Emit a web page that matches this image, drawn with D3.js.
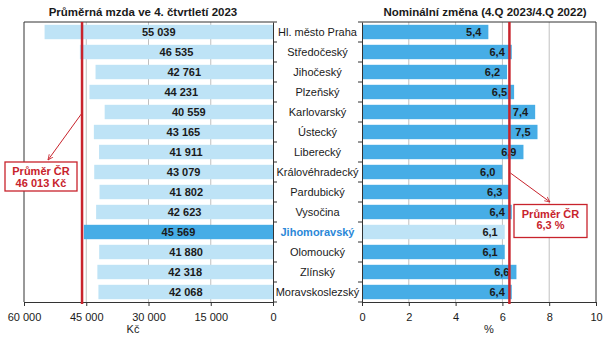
<!DOCTYPE html>
<html>
<head>
<meta charset="utf-8">
<script src="https://cdn.jsdelivr.net/npm/d3@7"></script>
<style>
  body { margin: 0; background: #fff; }
  svg { display: block; font-family: Arial, 'Liberation Sans', sans-serif; }
</style>
</head>
<body>
<script>
const regions = ['Hl. město Praha', 'Středočeský', 'Jihočeský', 'Plzeňský', 'Karlovarský', 'Ústecký',
  'Liberecký', 'Královéhradecký', 'Pardubický', 'Vysočina', 'Jihomoravský', 'Olomoucký', 'Zlínský', 'Moravskoslezský']
const wages = [55039, 46535, 42761, 44231, 40559, 43165, 41911, 43079, 41802, 42623, 45569, 41880, 42318, 42068]
const changes = [5.4, 6.4, 6.2, 6.5, 7.4, 7.5, 6.9, 6.0, 6.3, 6.4, 6.1, 6.1, 6.6, 6.4]
const wageTicks = [60000, 45000, 30000, 15000, 0]
const changeTicks = [0, 2, 4, 6, 8, 10]
const avgWage = 46013
const avgChange = 6.3
const highlight = 'Jihomoravský'

const width = 611
const height = 348

// colors
const lightBlue = '#bee3f6'
const darkBlue = '#46ade6'
const red = '#c8232c'
const textDark = '#1a1a1a'
const gridGray = '#c0c0c0'
const axisDark = '#333333'

const cz = d3.formatLocale({ decimal: ',', thousands: '\u00a0', grouping: [3], currency: ['', ' Kč'] })
const fmtInt = cz.format(',d')
const fmtDec = cz.format('.1f')

const data = regions.map((r, i) => ({ region: r, wage: wages[i], change: changes[i] }))

const svg = d3.select('body').append('svg').attr('width', width).attr('height', height)

const plotTop = 22
const plotBottom = 302

const y = d3.scaleBand()
  .domain(regions)
  .range([plotTop, plotBottom])
  .paddingInner(0.28)
  .paddingOuter(0.14)

// ---------- left panel ----------
const xL = d3.scaleLinear().domain([60000, 0]).range([24, 273])

svg.append('g')
  .selectAll('line')
  .data([45000, 30000, 15000])
  .join('line')
  .attr('x1', d => xL(d)).attr('x2', d => xL(d))
  .attr('y1', plotTop).attr('y2', plotBottom)
  .style('stroke', gridGray)

svg.append('g')
  .selectAll('rect')
  .data(data)
  .join('rect')
  .attr('x', d => xL(d.wage))
  .attr('width', d => xL(0) - xL(d.wage))
  .attr('y', d => y(d.region))
  .attr('height', y.bandwidth())
  .style('fill', d => d.region === highlight ? darkBlue : lightBlue)

svg.append('g')
  .selectAll('text')
  .data(data)
  .join('text')
  .attr('x', d => (xL(d.wage) + xL(0)) / 2)
  .attr('y', d => y(d.region) + y.bandwidth() / 2)
  .attr('dy', '0.36em')
  .attr('text-anchor', 'middle')
  .style('font-size', '11px')
  .style('font-weight', 'bold')
  .style('fill', textDark)
  .text(d => fmtInt(d.wage))

// frame: top & left
svg.append('path')
  .attr('d', `M${xL(0)},${plotTop}H${xL(60000)}V${plotBottom}`)
  .style('fill', 'none').style('stroke', axisDark)

const xAxisL = svg.append('g')
  .attr('transform', `translate(0,${plotBottom})`)
  .call(d3.axisBottom(xL).tickValues(wageTicks).tickFormat(fmtInt).tickSize(4).tickSizeOuter(0))
const yAxisL = svg.append('g')
  .attr('transform', `translate(${xL(0)},0)`)
  .call(d3.axisRight(y).tickValues([]).tickSizeOuter(0))
yAxisL.selectAll('.tick-b')
  .data(d3.range(regions.length + 1))
  .join('line')
  .attr('x1', 0).attr('x2', 4)
  .attr('y1', i => plotTop + i * y.step()).attr('y2', i => plotTop + i * y.step())
  .style('stroke', axisDark)

svg.append('text')
  .attr('x', 133).attr('y', 333)
  .attr('text-anchor', 'middle')
  .style('font-size', '11px').style('fill', textDark)
  .text('Kč')

svg.append('text')
  .attr('x', 143).attr('y', 16)
  .attr('text-anchor', 'middle')
  .style('font-size', '11.5px').style('font-weight', 'bold').style('fill', textDark)
  .text('Průměrná mzda ve 4. čtvrtletí 2023')

// ---------- right panel ----------
const xR = d3.scaleLinear().domain([0, 10]).range([362, 596])

svg.append('g')
  .selectAll('line')
  .data([2, 4, 6, 8])
  .join('line')
  .attr('x1', d => xR(d)).attr('x2', d => xR(d))
  .attr('y1', plotTop).attr('y2', plotBottom)
  .style('stroke', gridGray)

svg.append('g')
  .selectAll('rect')
  .data(data)
  .join('rect')
  .attr('x', xR(0))
  .attr('width', d => xR(d.change) - xR(0))
  .attr('y', d => y(d.region))
  .attr('height', y.bandwidth())
  .style('fill', d => d.region === highlight ? lightBlue : darkBlue)

svg.append('g')
  .selectAll('text')
  .data(data)
  .join('text')
  .attr('x', d => xR(d.change) - 7)
  .attr('y', d => y(d.region) + y.bandwidth() / 2)
  .attr('dy', '0.36em')
  .attr('text-anchor', 'end')
  .style('font-size', '11px')
  .style('font-weight', 'bold')
  .style('fill', textDark)
  .text(d => fmtDec(d.change))

svg.append('path')
  .attr('d', `M${xR(0)},${plotTop}H${xR(10)}V${plotBottom}`)
  .style('fill', 'none').style('stroke', axisDark)

const xAxisR = svg.append('g')
  .attr('transform', `translate(0,${plotBottom})`)
  .call(d3.axisBottom(xR).tickValues(changeTicks).tickFormat(d3.format('d')).tickSize(4).tickSizeOuter(0))
const yAxisR = svg.append('g')
  .attr('transform', `translate(${xR(0)},0)`)
  .call(d3.axisLeft(y).tickValues([]).tickSizeOuter(0))
yAxisR.selectAll('.tick-b')
  .data(d3.range(regions.length + 1))
  .join('line')
  .attr('x1', 0).attr('x2', -4)
  .attr('y1', i => plotTop + i * y.step()).attr('y2', i => plotTop + i * y.step())
  .style('stroke', axisDark)

svg.append('text')
  .attr('x', 489).attr('y', 333)
  .attr('text-anchor', 'middle')
  .style('font-size', '11px').style('fill', textDark)
  .text('%')

svg.append('text')
  .attr('x', 485).attr('y', 16)
  .attr('text-anchor', 'middle')
  .style('font-size', '11.5px').style('font-weight', 'bold').style('fill', textDark)
  .text('Nominální změna (4.Q 2023/4.Q 2022)')

// axis styling
for (const ax of [xAxisL, xAxisR, yAxisL, yAxisR]) {
  ax.select('.domain').style('stroke', axisDark)
  ax.selectAll('.tick line').style('stroke', axisDark)
  ax.selectAll('.tick text').style('font-size', '11px').style('fill', textDark)
    .style('font-family', "Arial, 'Liberation Sans', sans-serif")
}
xAxisL.selectAll('.tick text').attr('dy', '1.05em')
xAxisR.selectAll('.tick text').attr('dy', '1.05em')

// ---------- category labels ----------
svg.append('g')
  .selectAll('text')
  .data(data)
  .join('text')
  .attr('x', 317.5)
  .attr('y', d => y(d.region) + y.bandwidth() / 2)
  .attr('dy', '0.36em')
  .attr('text-anchor', 'middle')
  .style('font-size', '11px')
  .style('font-weight', d => d.region === highlight ? 'bold' : 'normal')
  .style('fill', d => d.region === highlight ? '#2b88d8' : textDark)
  .text(d => d.region)

// ---------- average lines + notes ----------
svg.append('defs').append('marker')
  .attr('id', 'arrow')
  .attr('viewBox', '0 0 10 10')
  .attr('refX', 9).attr('refY', 5)
  .attr('markerWidth', 6).attr('markerHeight', 6)
  .attr('orient', 'auto')
  .append('path')
  .attr('d', 'M0,1L9,5L0,9')
  .style('fill', 'none').style('stroke', red).style('stroke-width', 1.3)

function avgLine(x) {
  svg.append('line')
    .attr('x1', x).attr('x2', x)
    .attr('y1', plotTop).attr('y2', plotBottom + 2)
    .style('stroke', red).style('stroke-width', 2.5)
}
avgLine(xL(avgWage))
avgLine(xR(avgChange))

function note(x0, y0, x1, y1, bx, by, bw, bh, lines) {
  svg.append('line')
    .attr('x1', x0).attr('y1', y0).attr('x2', x1).attr('y2', y1)
    .style('stroke', red).style('stroke-width', 1)
    .attr('marker-end', 'url(#arrow)')
  svg.append('rect')
    .attr('x', bx).attr('y', by).attr('width', bw).attr('height', bh)
    .style('fill', '#fff').style('stroke', red).style('stroke-width', 1.3)
  svg.append('text')
    .attr('text-anchor', 'middle')
    .style('font-size', '11px').style('font-weight', 'bold').style('fill', red)
    .selectAll('tspan')
    .data(lines)
    .join('tspan')
    .attr('x', bx + bw / 2)
    .attr('y', (d, i) => by + 13 + i * 11.5)
    .text(d => d)
}
note(xL(avgWage), 113, 48, 160, 5, 162, 72, 29, ['Průměr ČR', fmtInt(avgWage) + ' Kč'])
note(xR(avgChange) + 1, 173, 550, 202, 514, 204.5, 73, 33, ['Průměr ČR', fmtDec(avgChange) + ' %'])
</script>
</body>
</html>
